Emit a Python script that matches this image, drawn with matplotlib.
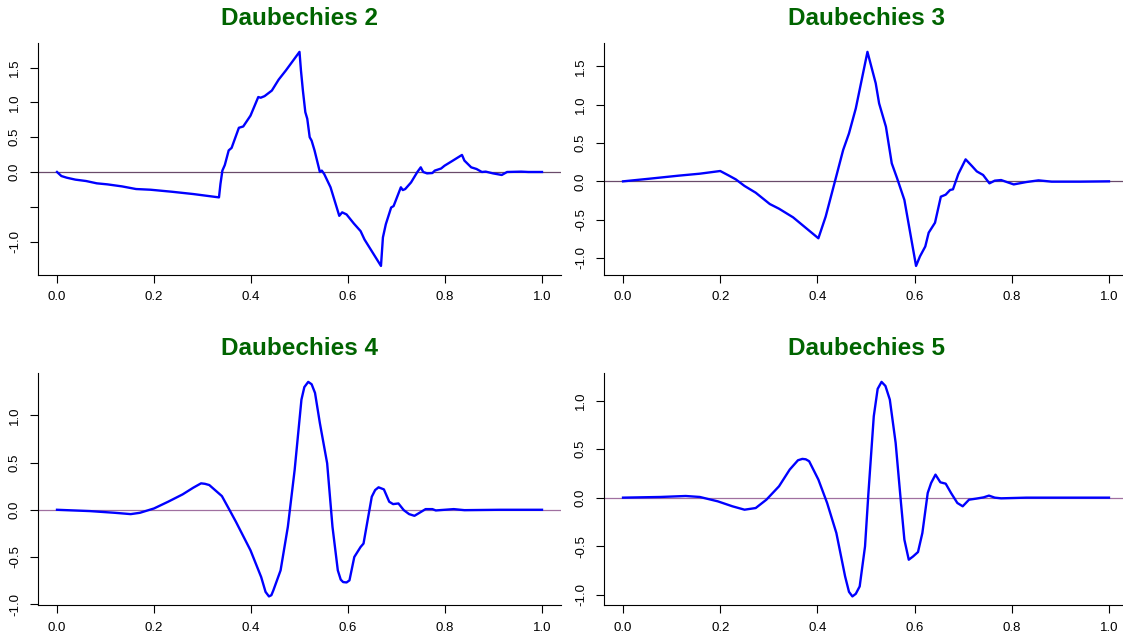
import matplotlib.pyplot as plt

plt.rcParams['font.family'] = ['Liberation Sans', 'DejaVu Sans']

# Daubechies 2 wavelet
d2_x = [0.0, 0.009, 0.02, 0.038, 0.06, 0.082, 0.104, 0.134, 0.163, 0.193, 0.237, 0.281, 0.334,
        0.337, 0.341, 0.346, 0.354, 0.36, 0.375, 0.384, 0.399, 0.415, 0.42, 0.428, 0.443, 0.457,
        0.472, 0.5, 0.503, 0.507, 0.512, 0.516, 0.521, 0.525, 0.531, 0.542, 0.546, 0.551, 0.564,
        0.582, 0.588, 0.597, 0.612, 0.626, 0.634, 0.668, 0.672, 0.678, 0.689, 0.694, 0.709, 0.713,
        0.718, 0.73, 0.743, 0.75, 0.755, 0.763, 0.774, 0.779, 0.792, 0.799, 0.814, 0.835, 0.84,
        0.854, 0.865, 0.876, 0.884, 0.899, 0.917, 0.928, 0.957, 0.972, 1.0]
d2_y = [0.0, -0.058, -0.082, -0.11, -0.13, -0.163, -0.178, -0.207, -0.245, -0.255, -0.284, -0.317, -0.365,
        -0.173, 0.02, 0.10, 0.31, 0.346, 0.635, 0.654, 0.81, 1.077, 1.067, 1.09, 1.17, 1.327,
        1.46, 1.726, 1.46, 1.17, 0.86, 0.765, 0.5, 0.45, 0.31, 0.0, 0.02, -0.03, -0.22,
        -0.63, -0.58, -0.61, -0.74, -0.85, -0.97, -1.35, -0.94, -0.75, -0.51, -0.49, -0.22, -0.26,
        -0.245, -0.15, 0.0, 0.067, 0.0, -0.02, -0.015, 0.02, 0.05, 0.09, 0.154, 0.245, 0.164,
        0.067, 0.043, 0.0, 0.005, -0.02, -0.043, 0.0, 0.005, 0.0, 0.0]

# Daubechies 3
d3_x = [0.0, 0.055, 0.114, 0.158, 0.2, 0.217, 0.232, 0.25, 0.273, 0.302, 0.321, 0.35, 0.402,
        0.417, 0.435, 0.453, 0.465, 0.479, 0.503, 0.52, 0.527, 0.541, 0.553, 0.564, 0.579, 0.603,
        0.611, 0.622, 0.629, 0.642, 0.654, 0.664, 0.673, 0.679, 0.69, 0.705, 0.718, 0.728, 0.741,
        0.754, 0.765, 0.778, 0.804, 0.83, 0.855, 0.882, 0.941, 1.0]
d3_y = [0.0, 0.035, 0.074, 0.1, 0.135, 0.078, 0.026, -0.06, -0.148, -0.296, -0.357, -0.47, -0.743,
        -0.46, -0.026, 0.41, 0.626, 0.952, 1.69, 1.28, 1.017, 0.713, 0.235, 0.04, -0.243, -1.104,
        -0.98, -0.85, -0.67, -0.54, -0.2, -0.174, -0.113, -0.104, 0.096, 0.287, 0.2, 0.13, 0.083,
        -0.026, 0.009, 0.017, -0.04, -0.009, 0.013, -0.004, -0.004, 0.0]

# Daubechies 4
d4_x = [0.0, 0.068, 0.119, 0.152, 0.171, 0.2, 0.229, 0.259, 0.281, 0.297, 0.305, 0.314, 0.34, 0.354,
        0.369, 0.399, 0.421, 0.43, 0.437, 0.442, 0.446, 0.461, 0.476, 0.49, 0.504, 0.51, 0.518,
        0.525, 0.532, 0.542, 0.557, 0.568, 0.579, 0.585, 0.59, 0.597, 0.603, 0.613, 0.626, 0.632,
        0.649, 0.656, 0.663, 0.674, 0.685, 0.693, 0.704, 0.715, 0.726, 0.737, 0.751, 0.76, 0.774,
        0.781, 0.818, 0.84, 0.913, 1.0]
d4_y = [0.0, -0.014, -0.032, -0.046, -0.032, 0.014, 0.085, 0.163, 0.234, 0.28, 0.275, 0.262, 0.145, 0.014,
        -0.128, -0.43, -0.713, -0.87, -0.918, -0.905, -0.855, -0.642, -0.18, 0.422, 1.167, 1.30, 1.355,
        1.33, 1.238, 0.918, 0.493, -0.18, -0.642, -0.74, -0.766, -0.77, -0.748, -0.5, -0.394, -0.358,
        0.138, 0.209, 0.238, 0.216, 0.085, 0.06, 0.067, -0.004, -0.046, -0.064, -0.021, 0.007, 0.007,
        -0.007, 0.007, -0.004, 0.0, 0.0]

# Daubechies 5
d5_x = [0.0, 0.077, 0.129, 0.158, 0.195, 0.225, 0.25, 0.273, 0.295, 0.321, 0.343, 0.36, 0.369, 0.376,
        0.383, 0.402, 0.42, 0.439, 0.457, 0.465, 0.472, 0.479, 0.487, 0.498, 0.505, 0.516, 0.524,
        0.532, 0.54, 0.549, 0.561, 0.572, 0.579, 0.588, 0.597, 0.607, 0.616, 0.627, 0.634, 0.643,
        0.653, 0.664, 0.675, 0.688, 0.699, 0.712, 0.727, 0.742, 0.753, 0.765, 0.778, 0.83, 1.0]
d5_y = [0.0, 0.007, 0.017, 0.007, -0.038, -0.089, -0.124, -0.107, -0.021, 0.117, 0.289, 0.385, 0.399, 0.395,
        0.375, 0.186, -0.055, -0.364, -0.811, -0.97, -1.017, -0.99, -0.914, -0.502, 0.048, 0.838, 1.12,
        1.192, 1.15, 1.01, 0.564, -0.055, -0.433, -0.639, -0.605, -0.56, -0.364, 0.048, 0.151, 0.237,
        0.158, 0.144, 0.048, -0.055, -0.089, -0.021, -0.01, 0.003, 0.021, 0.0, -0.007, 0.0, 0.0]

titles = ['Daubechies 2', 'Daubechies 3', 'Daubechies 4', 'Daubechies 5']
xs = [d2_x, d3_x, d4_x, d5_x]
ys = [d2_y, d3_y, d4_y, d5_y]
yticks = [[-1.0, -0.5, 0.0, 0.5, 1.0, 1.5],
          [-1.0, -0.5, 0.0, 0.5, 1.0, 1.5],
          [-1.0, -0.5, 0.0, 0.5, 1.0],
          [-1.0, -0.5, 0.0, 0.5, 1.0]]
xticks = [0.0, 0.2, 0.4, 0.6, 0.8, 1.0]

fig = plt.figure(figsize=(11.23, 6.41), dpi=100)
W, H = 1123.0, 641.0
# axes boxes in pixels: left, top, right, bottom
boxes = [(37.6, 43.3, 561.4, 274.5), (603.6, 43.3, 1128.4, 274.5),
         (37.6, 373.3, 561.4, 605.0), (603.6, 373.3, 1128.4, 605.0)]
zero_cols = ['#6a4a6a', '#6a4a6a', '#a070a0', '#a070a0']

for i in range(4):
    l, t, r, b = boxes[i]
    ax = fig.add_axes([l / W, 1 - b / H, (r - l) / W, (b - t) / H])
    ax.axhline(0, color=zero_cols[i], lw=0.9, zorder=1)
    ax.plot(xs[i], ys[i], color='blue', lw=1.7, zorder=2)
    ax.margins(x=0.04, y=0.04)
    for s in ['top', 'right']:
        ax.spines[s].set_visible(False)
    for s in ['left', 'bottom']:
        ax.spines[s].set_linewidth(0.8)
    ax.set_xticks(xticks)
    ax.set_xticklabels(['%.1f' % v for v in xticks])
    ax.set_yticks(yticks[i])
    labs = ['%.1f' % v for v in yticks[i]]
    if i == 0:
        labs[1] = ''
    ax.set_yticklabels(labs, rotation=90, va='center')
    ax.tick_params(direction='out', length=6, width=0.8, labelsize=9.5, pad=6)
    ax.set_title(titles[i], color='#006400', fontsize=17.5, fontweight='bold', pad=13)

fig.savefig('out.png', dpi=100)
